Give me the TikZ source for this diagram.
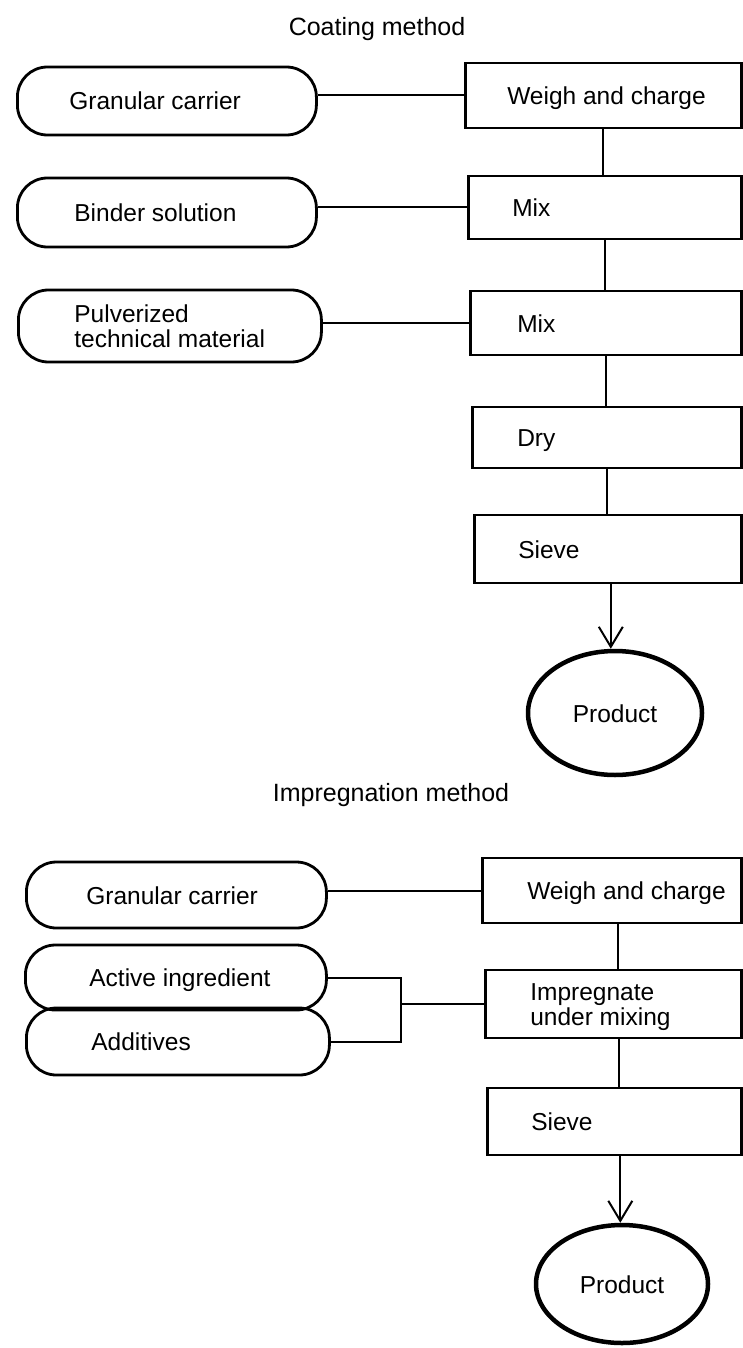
\documentclass[tikz,border=0pt]{standalone}
\usepackage{fontspec}
\setmainfont{Liberation Sans}
\usetikzlibrary{shapes.geometric,arrows.meta}
\newcommand{\lbox}[2]{\makebox[#1pt][l]{#2}}
\newcommand{\lowr}[1]{\raisebox{-4pt}[\height][\depth]{#1}}
\begin{document}
\begin{tikzpicture}[x=1pt,y=-1pt,
  every node/.style={font=\fontsize{24.5pt}{24pt}\selectfont, inner sep=0pt},
  one/.style={text height=19pt, text depth=1pt},
  procbox/.style={draw, line width=2.6pt, rectangle, anchor=west},
  stad/.style={draw, line width=2.8pt, rectangle, rounded corners=30pt, anchor=west},
  conn/.style={line width=2pt},
  prod/.style={draw, ellipse, line width=4.5pt},
  ttl/.style={font=\fontsize{25pt}{25pt}\selectfont}
]
\useasboundingbox (0,0) rectangle (742,1348);

% ---------- Coating method ----------
\node[ttl, one] (t1) at (377,27) {Coating method};

\node[stad, one, minimum width=299pt, minimum height=68pt] (g1) at (16,101) {\lbox{195}{Granular carrier}};
\node[stad, one, minimum width=299pt, minimum height=69pt] (b) at (16,212.5) {\lbox{185}{Binder solution}};
\node[stad, minimum width=303pt, minimum height=72pt] (p) at (17,326) {\lbox{191}{\lowr{\begin{tabular}{@{}l@{}}Pulverized\\technical material\end{tabular}}}};

\node[procbox, one, minimum width=276pt, minimum height=65pt] (w1) at (464,95.5) {\lbox{192}{Weigh and charge}};
\node[procbox, one, minimum width=273pt, minimum height=63pt] (m1) at (467,207.5) {\lbox{185}{Mix}};
\node[procbox, one, minimum width=271pt, minimum height=64pt] (m2) at (469,323) {\lbox{177}{Mix}};
\node[procbox, one, minimum width=269pt, minimum height=61pt] (d) at (471,437.5) {\lbox{179}{Dry}};
\node[procbox, one, minimum width=267pt, minimum height=68pt] (s1) at (473,549) {\lbox{179}{Sieve}};

\node[prod, one, minimum width=174pt, minimum height=124pt] (pr1) at (615,713) {Product};

\draw[conn] (w1.west -| g1.east) -- (w1.west);
\draw[conn] (m1.west -| b.east) -- (m1.west);
\draw[conn] (m2.west -| p.east) -- (m2.west);
\draw[conn] (w1.south) -- (w1.south |- m1.north);
\draw[conn] (m1.south) -- (m1.south |- m2.north);
\draw[conn] (m2.south) -- (m2.south |- d.north);
\draw[conn] (d.south) -- (d.south |- s1.north);
\draw[conn, -{Straight Barb[length=20pt,width=24pt]}] ([xshift=3pt]s1.south) -- ([xshift=3pt]s1.south |- pr1.north);

% ---------- Impregnation method ----------
\node[ttl, one] (t2) at (391,792) {Impregnation method};

\node[stad, one, minimum width=300pt, minimum height=66pt] (g2) at (25,895) {\lbox{180}{Granular carrier}};
\node[stad, one, minimum width=301pt, minimum height=65pt] (a) at (24,977.5) {\lbox{173}{Active ingredient}};
\node[stad, one, minimum width=303pt, minimum height=67pt] (ad) at (25,1041.5) {\lbox{173}{Additives}};

\node[procbox, one, minimum width=259pt, minimum height=65pt] (w2) at (481,890.5) {\lbox{169}{Weigh and charge}};
\node[procbox, minimum width=256pt, minimum height=68pt] (imp) at (484,1004) {\lbox{166}{\lowr{\begin{tabular}{@{}l@{}}Impregnate\\under mixing\end{tabular}}}};
\node[procbox, one, minimum width=254pt, minimum height=67pt] (s2) at (486,1121.5) {\lbox{166}{Sieve}};

\node[prod, one, minimum width=172pt, minimum height=118pt] (pr2) at (622,1284) {Product};

\coordinate (br) at (imp.west -| 401,0);
\draw[conn] (w2.west -| g2.east) -- (w2.west);
\draw[conn] (a.east) -| (br);
\draw[conn] (ad.east) -| (br);
\draw[conn] (br) -- (imp.west);
\draw[conn] ([xshift=6pt]w2.south) -- ([xshift=6pt]w2.south |- imp.north);
\draw[conn] ([xshift=6pt]imp.south) -- ([xshift=6pt]imp.south |- s2.north);
\draw[conn, -{Straight Barb[length=20pt,width=24pt]}] ([xshift=6pt]s2.south) -- ([xshift=6pt]s2.south |- pr2.north);
\end{tikzpicture}
\end{document}
